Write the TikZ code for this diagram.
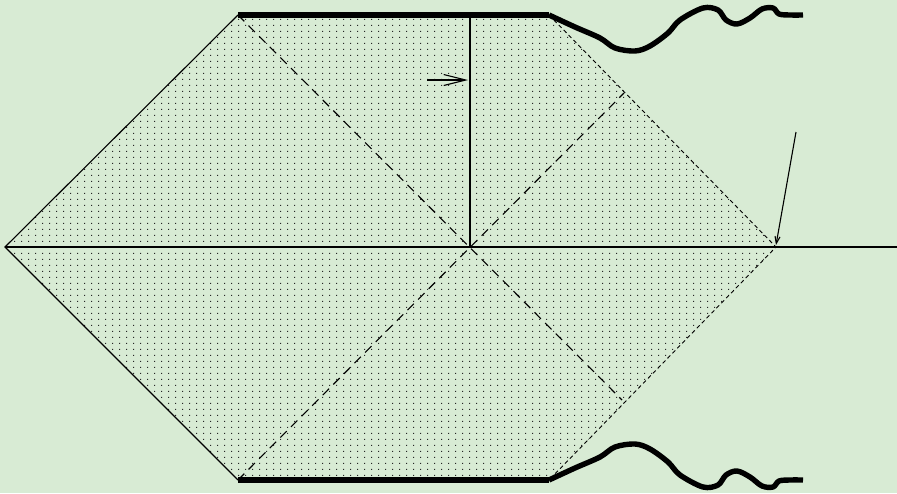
\documentclass[tikz,border=0pt]{standalone}
\usetikzlibrary{patterns.meta,arrows.meta}
\definecolor{bg}{RGB}{216,235,212}
\tikzdeclarepattern{name=sparsedots, type=uncolored,
  bottom left={(0pt,0pt)}, top right={(7.3pt,5.6pt)}, tile size={(7.3pt,5.6pt)},
  code={\pgfpathrectangle{\pgfpoint{0pt}{0pt}}{\pgfpoint{1.1pt}{1.1pt}}\pgfusepath{fill}}}
\tikzset{
  thin line/.style={line width=1.1pt},
  thick wall/.style={line width=5.4pt, line cap=butt, line join=round},
  inner dash/.style={line width=1.1pt, dash pattern=on 9pt off 6pt},
  edge dash/.style={line width=0.9pt, dash pattern=on 4pt off 3pt},
}
\begin{document}
\begin{tikzpicture}[x=1pt,y=-1pt]
\fill[bg] (0,0) rectangle (897,493);
\useasboundingbox (0,0) rectangle (897,493);
\coordinate (L) at (5,247);
\coordinate (TL) at (238,15);
\coordinate (TR) at (549,15);
\coordinate (R) at (776,247);
\coordinate (BR) at (549,480);
\coordinate (BL) at (238,480);
\coordinate (C) at (470,247);
\coordinate (Ctop) at (470,15);
\coordinate (DU) at (624,93);
\coordinate (DD) at (622,400);
\coordinate (AxE) at (897,247);
\coordinate (A1s) at (427,80);
\coordinate (A1e) at (468,80);
\coordinate (A2s) at (796,132);
\coordinate (A2e) at (776,245);
% dotted region
\path[pattern={sparsedots}, pattern color=black!85] (L) -- (TL) -- (TR) -- (R) -- (BR) -- (BL) -- cycle;
% left edges
\draw[thin line] (TL) -- (L) -- (BL);
% right edges dashed
\draw[edge dash] (TR) -- (R) -- (BR);
% interior diagonals
\draw[inner dash] (TL) -- (DD);
\draw[inner dash] (BL) -- (DU);
% axis and vertical
\draw[thin line] (L) -- (AxE);
\draw[thin line] (Ctop) -- (C);
% arrows
\draw[thin line, -{Straight Barb[length=22pt,width=11pt]}] (A1s) -- (A1e);
\draw[thin line, -{Straight Barb[length=7pt,width=5pt]}] (A2s) -- (A2e);
% thick walls
\draw[thick wall] (TL) -- (TR);
\draw[thick wall] (BL) -- (BR);
\draw[thick wall] plot[smooth, tension=0.55] coordinates {(TR) (575,27) (600,38) (615,48) (635,51) (650,46) (668,33) (680,20) (703,8) (718,10) (726,20) (737,24) (750,18) (762,9) (773,8) (779,14) (790,15) (803,15)};
\draw[thick wall] plot[smooth, tension=0.55] coordinates {(BR) (575,468) (600,457) (615,447) (635,444) (650,449) (668,462) (680,475) (703,487) (718,485) (726,475) (737,471) (750,477) (762,486) (773,487) (779,481) (790,480) (803,480)};
\end{tikzpicture}
\end{document}
